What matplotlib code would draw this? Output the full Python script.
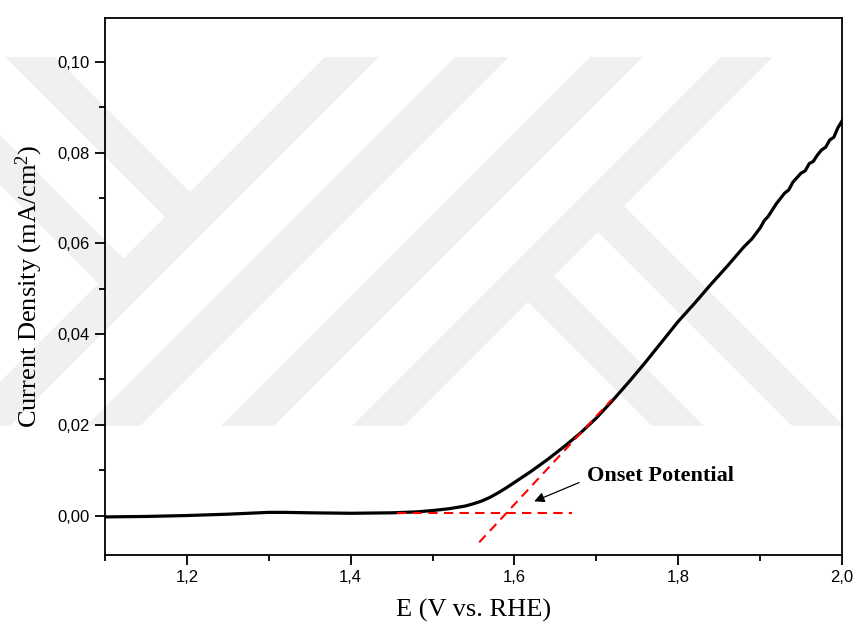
import matplotlib
matplotlib.use("Agg")
import matplotlib.pyplot as plt
from matplotlib.patches import Polygon
from matplotlib.ticker import MultipleLocator, FuncFormatter

# LSV curve (E vs RHE, current density)
potential = [1.10, 1.15, 1.20, 1.25, 1.30, 1.32, 1.35, 1.40, 1.45, 1.48,
             1.50, 1.52, 1.54, 1.55, 1.56, 1.57, 1.58, 1.59, 1.60, 1.61,
             1.62, 1.63, 1.64, 1.66, 1.68, 1.70, 1.72, 1.74, 1.76, 1.78,
             1.80, 1.82, 1.84, 1.86, 1.88, 1.89, 1.90, 1.905, 1.91, 1.92,
             1.93, 1.935, 1.94, 1.95, 1.955, 1.96, 1.965, 1.97, 1.975, 1.98,
             1.985, 1.99, 1.995, 2.00]
current = [-0.0003, -0.0002, 0.0000, 0.0003, 0.0007, 0.0007, 0.0006, 0.0005, 0.0006, 0.0008,
           0.0011, 0.0015, 0.0021, 0.0026, 0.0032, 0.0040, 0.0050, 0.0061, 0.0073, 0.0085,
           0.0097, 0.0110, 0.0123, 0.0151, 0.0181, 0.0215, 0.0254, 0.0295, 0.0338, 0.0383,
           0.0428, 0.0468, 0.0510, 0.0550, 0.0592, 0.0610, 0.0634, 0.0650, 0.0660, 0.0688,
           0.0711, 0.0718, 0.0735, 0.0755, 0.0760, 0.0776, 0.0781, 0.0795, 0.0806, 0.0812,
           0.0828, 0.0834, 0.0855, 0.0870]

# onset construction lines
baseline_x = [1.457, 1.670]
baseline_y = [0.0005, 0.0005]
tangent_x = [1.557, 1.719]
tangent_y = [-0.0059, 0.0256]
arrow_head = (1.621, 0.0029)
arrow_tail = (1.682, 0.0075)
label_pos = (1.689, 0.0088)

# watermark bands in image pixels: "/" bands as x+y ranges, "\" bands as x-y ranges
slash_bands = [(382, 436), (512, 566), (647, 700), (778, 830)]
back_left = [(-52, -2), (-185, -135)]
back_right = [(366, 418), (226, 278)]

W, H = 855, 626
fig = plt.figure(figsize=(W / 100, H / 100), dpi=100)
fig.patch.set_facecolor('white')

wm_color = '#f0f0f0'
y_top, y_bot = 57, 426


def to_fig(pts):
    return [(x / W, 1 - y / H) for x, y in pts]


def add_poly(pts):
    fig.patches.append(Polygon(to_fig(pts), closed=True, transform=fig.transFigure,
                               facecolor=wm_color, edgecolor='none', zorder=-5))


for c1, c2 in slash_bands:
    add_poly([(c1 - y_top, y_top), (c2 - y_top, y_top), (c2 - y_bot, y_bot), (c1 - y_bot, y_bot)])

# bands coming from the upper left into the first "/" band
end = 410
for d1, d2 in back_left:
    add_poly([(d1 + y_top, y_top), (d2 + y_top, y_top),
              ((end + d2) / 2, (end - d2) / 2), ((end + d1) / 2, (end - d1) / 2)])

# bands leaving the last "/" band towards the lower right
start = 804
for d1, d2 in back_right:
    add_poly([((start + d1) / 2, (start - d1) / 2), ((start + d2) / 2, (start - d2) / 2),
              (d2 + y_bot, y_bot), (d1 + y_bot, y_bot)])

ax = fig.add_axes([105 / W, 1 - 555 / H, (842 - 105) / W, (555 - 18) / H])
ax.set_facecolor('none')

ax.plot(potential, current, color='black', lw=2.3, zorder=3)
ax.plot(baseline_x, baseline_y, color='#ff0000', lw=1.5, dashes=(4.5, 3), zorder=4)
ax.plot(tangent_x, tangent_y, color='#ff0000', lw=1.5, dashes=(4.5, 3), zorder=4)

ax.annotate('', xy=arrow_head, xytext=arrow_tail,
            arrowprops=dict(arrowstyle='-|>', color='black', lw=0.9, mutation_scale=15))
ax.text(label_pos[0], label_pos[1], 'Onset Potential', family='Liberation Serif',
        fontweight='bold', fontsize=16, ha='left', va='center')

ax.set_xlim(1.1, 2.0)
ax.set_ylim(-0.0087, 0.1097)

ax.xaxis.set_major_locator(MultipleLocator(0.2))
ax.xaxis.set_minor_locator(MultipleLocator(0.1))
ax.yaxis.set_major_locator(MultipleLocator(0.02))
ax.yaxis.set_minor_locator(MultipleLocator(0.01))
ax.xaxis.set_major_formatter(FuncFormatter(lambda v, p: f'{v:.1f}'.replace('.', ',')))
ax.yaxis.set_major_formatter(FuncFormatter(lambda v, p: f'{v:.2f}'.replace('.', ',')))

ax.tick_params(which='both', direction='out', top=False, right=False, width=1.3)
ax.tick_params(which='major', length=7, labelsize=12, pad=4)
ax.tick_params(which='minor', length=4.5)
for lab in ax.get_xticklabels() + ax.get_yticklabels():
    lab.set_family('Liberation Sans')
for sp in ax.spines.values():
    sp.set_linewidth(1.3)

plt.rcParams['mathtext.fontset'] = 'custom'
plt.rcParams['mathtext.rm'] = 'Liberation Serif'
ax.set_xlabel('E (V vs. RHE)', family='Liberation Serif', fontsize=19, labelpad=10)
ax.set_ylabel(r'Current Density (mA/cm$\mathregular{^{2}}$)', family='Liberation Serif',
              fontsize=19, labelpad=9)

fig.savefig('out.png', dpi=100)
